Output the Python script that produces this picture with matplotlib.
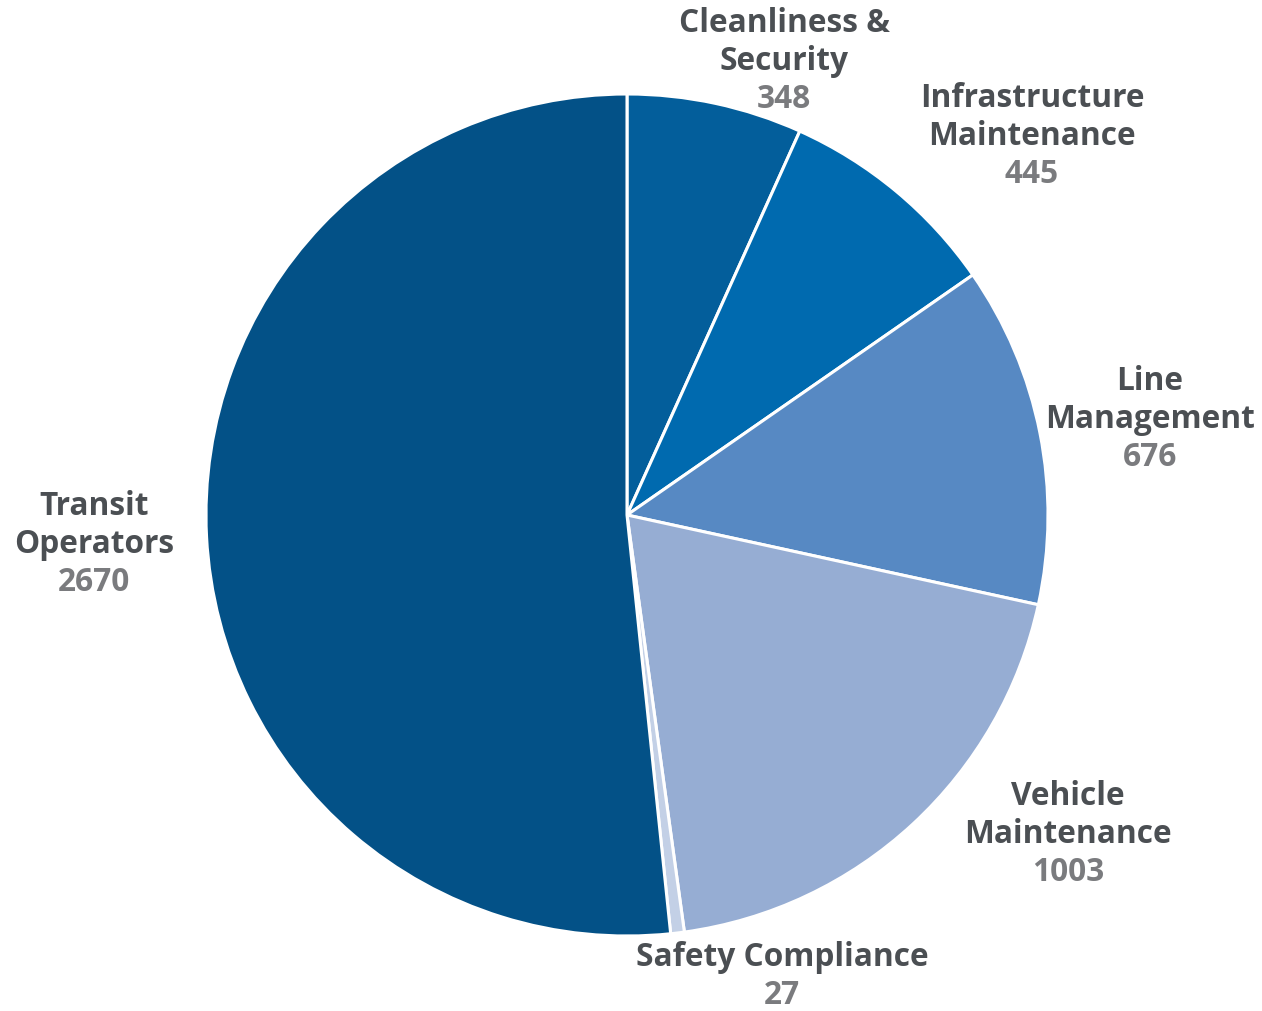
import matplotlib
matplotlib.use("Agg")
import matplotlib.pyplot as plt

categories = ["Cleanliness &\nSecurity", "Infrastructure\nMaintenance", "Line\nManagement",
              "Vehicle\nMaintenance", "Safety Compliance", "Transit\nOperators"]
values = [348, 445, 676, 1003, 27, 2670]
colors = ["#035E9B", "#006AAF", "#5789C3", "#96ADD3", "#C3D0E6", "#035187"]

# label block centers (in units of pie radius)
label_pos = [(0.373, 1.078), (0.962, 0.900), (1.242, 0.228), (1.048, -0.760), (0.368, -1.097), (-1.266, -0.069)]

W, H = 1262, 1011
fig = plt.figure(figsize=(W / 100, H / 100), dpi=100)
cx, cy, R = 627, 515, 421
ax = fig.add_axes([(cx - R) / W, (H - cy - R) / H, 2 * R / W, 2 * R / H])
ax.pie(values, colors=colors, startangle=90, counterclock=False, radius=1,
       wedgeprops=dict(edgecolor="white", linewidth=2.2))
ax.set_xlim(-1, 1)
ax.set_ylim(-1, 1)
ax.set_aspect("equal")
ax.axis("off")

font = dict(family=["Open Sans", "DejaVu Sans"], fontweight="bold", fontsize=22.8)
line_h = 38 / R
for name, val, (x, y) in zip(categories, values, label_pos):
    n = name.count("\n") + 1
    total = n + 1
    top = y + (total - 1) * line_h / 2
    for i, ln in enumerate(name.split("\n")):
        ax.text(x, top - i * line_h, ln, ha="center", va="center", color="#4B4F53", clip_on=False, **font)
    ax.text(x, top - n * line_h, str(val), ha="center", va="center", color="#7A7B7E", clip_on=False, **font)

fig.savefig("out.png", dpi=100)
